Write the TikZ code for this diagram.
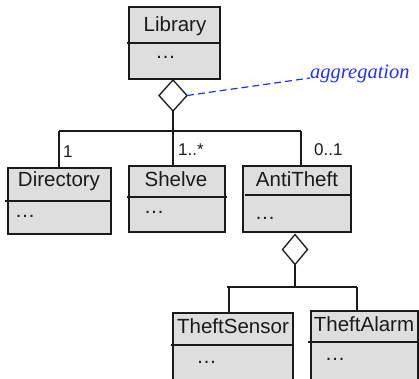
\documentclass[tikz,border=0pt]{standalone}
\usepackage{fontspec}
\setmainfont{Liberation Sans}
\newfontfamily\aggfont{Liberation Serif}
\usetikzlibrary{shapes.geometric}
\definecolor{boxfill}{HTML}{DEDEDE}
\definecolor{lineblk}{HTML}{1A1A1A}
\definecolor{aggblue}{HTML}{2233EE}
\tikzset{
  classbox/.style={draw=lineblk, fill=boxfill, line width=1.3pt, anchor=north west, inner sep=0pt, outer sep=0pt},
  divider/.style={draw=lineblk, line width=1.2pt},
  conn/.style={draw=lineblk, line width=1.3pt},
  title/.style={anchor=base, inner sep=0pt, font=\fontsize{20.5}{24}\selectfont, text=lineblk},
  dots/.style={anchor=base, inner sep=0pt, font=\fontsize{20.5}{24}\selectfont, text=lineblk},
  mult/.style={anchor=base west, inner sep=0pt, font=\fontsize{17}{20}\selectfont, text=lineblk},
  aggdia/.style={diamond, draw=lineblk, fill=white, line width=1.3pt, inner sep=0pt, outer sep=0pt},
}
\begin{document}
\begin{tikzpicture}[x=1pt, y=-1pt]
\useasboundingbox (0,0) rectangle (419,378);
% class boxes
\node[classbox, minimum width=91pt, minimum height=72pt] (lib) at (129,7) {};
\node[classbox, minimum width=103pt, minimum height=66pt] (dir) at (8,168) {};
\node[classbox, minimum width=96pt, minimum height=66pt] (shelve) at (129,166) {};
\node[classbox, minimum width=108pt, minimum height=66pt] (anti) at (243,166) {};
\node[classbox, minimum width=120pt, minimum height=80pt] (sensor) at (173,313) {};
\node[classbox, minimum width=107pt, minimum height=82pt] (alarm) at (311,311) {};
% dividers
\draw[divider] (127,43) -- (220,43);
\draw[divider] (5,201) -- (111,201);
\draw[divider] (127,197) -- (227,197);
\draw[divider] (245,195) -- (350,195);
\draw[divider] (171,345) -- (293,345);
\draw[divider] (308,342) -- (418,342);
% titles
\node[title] (libt) at (175,31) {Library};
\node[title] (dirt) at (59,186) {Directory};
\node[title] (shelvet) at (176,186) {Shelve};
\node[title] (antit) at (297,186) {AntiTheft};
\node[title] (sensort) at (233,333) {TheftSensor};
\node[title] (alarmt) at (364,331) {TheftAlarm};
% attribute dots
\node[dots] (libd) at (165.5,58.5) {…};
\node[dots] (dird) at (25,217.5) {…};
\node[dots] (shelved) at (154,213.5) {…};
\node[dots] (antid) at (265,219.5) {…};
\node[dots] (sensord) at (206.5,363.5) {…};
\node[dots] (alarmd) at (335,360.5) {…};
% aggregation diamonds
\node[aggdia, minimum width=28pt, minimum height=31pt] (d1) at (173,95.5) {};
\node[aggdia, minimum width=25pt, minimum height=30pt] (d2) at (295,249.5) {};
% first tree
\coordinate (busL) at (59,131);
\coordinate (busR) at (301,131);
\coordinate (busM) at (d1.south |- busL);
\draw[conn] (busL) -- (busR);
\draw[conn] (d1.south) -- (busM);
\draw[conn] (busM) -- (busM |- shelve.north);
\draw[conn] (busL) -- (busL |- dir.north);
\draw[conn] (busR) -- (busR |- anti.north);
% second tree
\coordinate (bus2L) at (227,287);
\coordinate (bus2R) at (357,287);
\coordinate (bus2M) at (d2.south |- bus2L);
\coordinate (bus2A) at (229,287);
\draw[conn] (bus2L) -- (bus2R);
\draw[conn] (d2.south) -- (bus2M);
\draw[conn] (bus2A) -- (bus2A |- sensor.north);
\draw[conn] (bus2R) -- (bus2R |- alarm.north);
% multiplicities
\node[mult] (m1) at (63,157) {1};
\node[mult] (m2) at (178,155) {1..*};
\node[mult] (m3) at (314,155) {0..1};
% aggregation label
\node[anchor=base west, inner sep=0pt, text=aggblue, font=\aggfont\itshape\fontsize{20.5}{24}\selectfont] (agg) at (310,78) {aggregation};
\draw[aggblue, line width=1.2pt, dash pattern=on 7pt off 4pt] (d1.east) -- (agg.base west);
\end{tikzpicture}
\end{document}
